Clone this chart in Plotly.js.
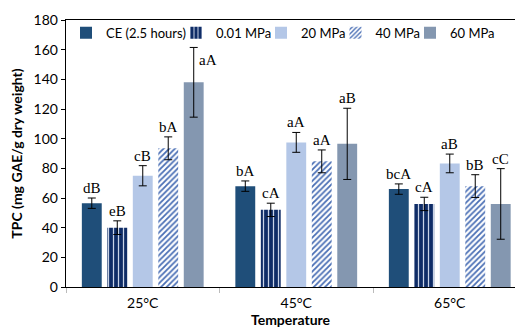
<!DOCTYPE html>
<html>
<head>
<meta charset="utf-8">
<script src="https://cdn.plot.ly/plotly-3.0.1.min.js"></script>
<style>html,body{margin:0;padding:0;background:#fff;}#chart{width:515px;height:328px;}</style>
</head>
<body>
<div id="chart"></div>
<script>
const categories = ["25°C", "45°C", "65°C"];
const seriesNames = ["CE (2.5 hours)", "0.01 MPa", "20 MPa", "40 MPa", "60 MPa"];
const ce = [56.5, 68, 66];
const ceErr = [3.5, 3.5, 3.5];
const mpa001 = [40, 52, 56];
const mpa001Err = [4.6, 4.5, 4.5];
const mpa20 = [75, 97.5, 83.3];
const mpa20Err = [6.8, 6.7, 6.3];
const mpa40 = [93.5, 84.7, 68];
const mpa40Err = [7.7, 7.7, 7.7];
const mpa60 = [138, 96.5, 56];
const mpa60Err = [23.5, 24, 23.8];
const ceLabels = ["dB", "bA", "bcA"];
const mpa001Labels = ["eB", "cA", "cA"];
const mpa20Labels = ["cB", "aA", "aB"];
const mpa40Labels = ["bA", "aA", "bB"];
const mpa60Labels = ["aA", "aB", "cC"];

const values = [ce, mpa001, mpa20, mpa40, mpa60];
const errors = [ceErr, mpa001Err, mpa20Err, mpa40Err, mpa60Err];
const labels = [ceLabels, mpa001Labels, mpa20Labels, mpa40Labels, mpa60Labels];

const markers = [
  {color: "#1F4E79"},
  {color: "#0F2C66", pattern: {shape: "|", fgcolor: "#C9D3E6", bgcolor: "#0F2C66", size: 5, solidity: 0.25, fillmode: "replace"}},
  {color: "#B4C7E7"},
  {color: "#4A6FB5", pattern: {shape: "/", fgcolor: "#4A6FB5", bgcolor: "#FFFFFF", size: 4, solidity: 0.45, fillmode: "replace"}},
  {color: "#8497B0"}
];

const bargap = 0.17;
const nSeries = seriesNames.length;
const slot = (1 - bargap) / nSeries;

// one legend box per series so the single legend row keeps its spacing
const plotLeft = 66, plotWidth = 449;
const legendLeftPx = [66, 176, 261, 335.5, 410];
const legendNames = ["legend", "legend2", "legend3", "legend4", "legend5"];

const traces = seriesNames.map((name, i) => ({
  type: "bar",
  name: name,
  x: categories,
  y: values[i],
  legend: legendNames[i],
  marker: Object.assign({line: {width: 0}}, markers[i]),
  error_y: {type: "data", array: errors[i], visible: true, color: "#000000", thickness: 1, width: 4}
}));

const annotations = [];
labels.forEach((arr, i) => {
  arr.forEach((txt, j) => {
    const top = values[i][j] + errors[i][j];
    const xpos = j + (i - (nSeries - 1) / 2) * slot;
    if (i === 4 && j === 0) {
      annotations.push({x: xpos, y: top, xref: "x", yref: "y", text: txt, showarrow: false,
        xanchor: "left", yanchor: "top", xshift: 3, yshift: -3,
        font: {family: "Liberation Serif", size: 15, color: "#000"}});
    } else {
      annotations.push({x: xpos, y: top, xref: "x", yref: "y", text: txt, showarrow: false,
        xanchor: "center", yanchor: "bottom", yshift: 0,
        font: {family: "Liberation Serif", size: 15, color: "#000"}});
    }
  });
});

const layout = {
  width: 515, height: 328,
  margin: {l: 66, r: 0, t: 20, b: 41},
  paper_bgcolor: "#fff", plot_bgcolor: "#fff",
  font: {family: "Lato, 'Open Sans', sans-serif", size: 14, color: "#000"},
  barmode: "group",
  bargap: bargap,
  bargroupgap: 0.22,
  showlegend: true,
  xaxis: {
    type: "category",
    range: [-0.5, 2.425],
    showline: true, linecolor: "#000", linewidth: 1.3, mirror: true,
    ticks: "outside", tickson: "boundaries", ticklen: 5, tickcolor: "#BBBBBB",
    showgrid: false, zeroline: false,
    tickfont: {size: 14}, ticklabelstandoff: 3,
    title: {text: "<b>Temperature</b>", font: {size: 14}, standoff: 6}
  },
  yaxis: {
    range: [0, 180], dtick: 20,
    showline: true, linecolor: "#000", linewidth: 1.3,
    ticks: "outside", ticklen: 4, tickcolor: "#000",
    showgrid: false, zeroline: false,
    tickfont: {size: 14},
    title: {text: "<b>TPC (mg GAE/g dry weight)</b>", font: {size: 14}, standoff: 7}
  },
  annotations: annotations
};

legendNames.forEach((ln, i) => {
  layout[ln] = {
    orientation: "h",
    x: Math.max(0, (legendLeftPx[i] - plotLeft) / plotWidth),
    y: 1.008, xanchor: "left", yanchor: "top",
    font: {size: 13, color: "#000"}, bgcolor: "rgba(0,0,0,0)", itemwidth: 30
  };
});

Plotly.newPlot("chart", traces, layout, {displayModeBar: false, staticPlot: true});
</script>
</body>
</html>
